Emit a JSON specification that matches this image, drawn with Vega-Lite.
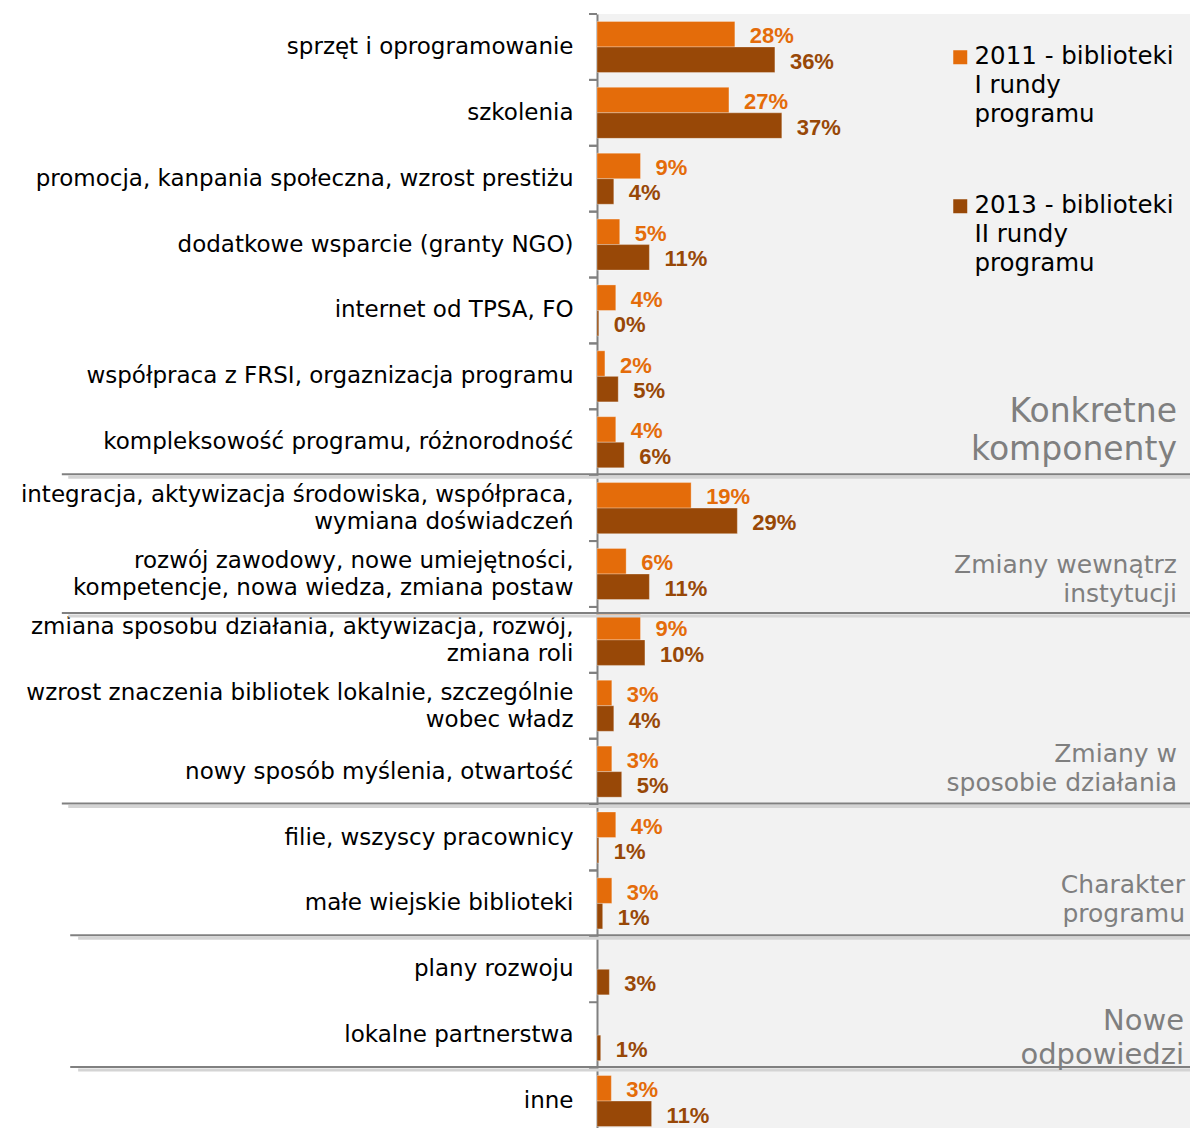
{
  "$schema": "https://vega.github.io/schema/vega-lite/v6.json",
  "width": 593,
  "height": 1114,
  "autosize": "none",
  "padding": {"left": 597, "top": 14, "right": 0, "bottom": 0},
  "background": "white",
  "config": {"view": {"fill": "#F2F2F2", "stroke": null}, "font": "DejaVu Sans", "style": {"guide-label": {"lineHeight": 29}}},
  "datasets": {
    "bars": [
      {"row": "sprzęt i oprogramowanie", "series": "2011", "value": 27.9, "label": "28%"},
      {"row": "sprzęt i oprogramowanie", "series": "2013", "value": 36.0, "label": "36%"},
      {"row": "szkolenia", "series": "2011", "value": 26.7, "label": "27%"},
      {"row": "szkolenia", "series": "2013", "value": 37.4, "label": "37%"},
      {"row": "promocja, kanpania społeczna, wzrost prestiżu", "series": "2011", "value": 8.8, "label": "9%"},
      {"row": "promocja, kanpania społeczna, wzrost prestiżu", "series": "2013", "value": 3.4, "label": "4%"},
      {"row": "dodatkowe wsparcie (granty NGO)", "series": "2011", "value": 4.6, "label": "5%"},
      {"row": "dodatkowe wsparcie (granty NGO)", "series": "2013", "value": 10.6, "label": "11%"},
      {"row": "internet od TPSA, FO", "series": "2011", "value": 3.8, "label": "4%"},
      {"row": "internet od TPSA, FO", "series": "2013", "value": 0.35, "label": "0%"},
      {"row": "współpraca z FRSI, orgaznizacja programu", "series": "2011", "value": 1.6, "label": "2%"},
      {"row": "współpraca z FRSI, orgaznizacja programu", "series": "2013", "value": 4.3, "label": "5%"},
      {"row": "kompleksowość programu, różnorodność", "series": "2011", "value": 3.8, "label": "4%"},
      {"row": "kompleksowość programu, różnorodność", "series": "2013", "value": 5.5, "label": "6%"},
      {"row": "integracja, aktywizacja środowiska, współpraca,\nwymiana doświadczeń", "series": "2011", "value": 19.05, "label": "19%"},
      {"row": "integracja, aktywizacja środowiska, współpraca,\nwymiana doświadczeń", "series": "2013", "value": 28.4, "label": "29%"},
      {"row": "rozwój zawodowy, nowe umiejętności,\nkompetencje, nowa wiedza, zmiana postaw", "series": "2011", "value": 5.9, "label": "6%"},
      {"row": "rozwój zawodowy, nowe umiejętności,\nkompetencje, nowa wiedza, zmiana postaw", "series": "2013", "value": 10.6, "label": "11%"},
      {"row": "zmiana sposobu działania, aktywizacja, rozwój,\nzmiana roli", "series": "2011", "value": 8.8, "label": "9%"},
      {"row": "zmiana sposobu działania, aktywizacja, rozwój,\nzmiana roli", "series": "2013", "value": 9.7, "label": "10%"},
      {"row": "wzrost znaczenia bibliotek lokalnie, szczególnie\nwobec władz", "series": "2011", "value": 3.0, "label": "3%"},
      {"row": "wzrost znaczenia bibliotek lokalnie, szczególnie\nwobec władz", "series": "2013", "value": 3.4, "label": "4%"},
      {"row": "nowy sposób myślenia, otwartość", "series": "2011", "value": 3.0, "label": "3%"},
      {"row": "nowy sposób myślenia, otwartość", "series": "2013", "value": 5.0, "label": "5%"},
      {"row": "filie, wszyscy pracownicy", "series": "2011", "value": 3.8, "label": "4%"},
      {"row": "filie, wszyscy pracownicy", "series": "2013", "value": 0.35, "label": "1%"},
      {"row": "małe wiejskie biblioteki", "series": "2011", "value": 3.0, "label": "3%"},
      {"row": "małe wiejskie biblioteki", "series": "2013", "value": 1.15, "label": "1%"},
      {"row": "plany rozwoju", "series": "2013", "value": 2.5, "label": "3%"},
      {"row": "lokalne partnerstwa", "series": "2013", "value": 0.75, "label": "1%"},
      {"row": "inne", "series": "2011", "value": 2.9, "label": "3%"},
      {"row": "inne", "series": "2013", "value": 11.05, "label": "11%"}
    ],
    "groups": [
      {"name": "Konkretne\nkomponenty", "last": "kompleksowość programu, różnorodność"},
      {"name": "Zmiany wewnątrz\ninstytucji", "last": "rozwój zawodowy, nowe umiejętności,\nkompetencje, nowa wiedza, zmiana postaw"},
      {"name": "Zmiany w\nsposobie działania", "last": "nowy sposób myślenia, otwartość"},
      {"name": "Charakter\nprogramu", "last": "małe wiejskie biblioteki"},
      {"name": "Nowe\nodpowiedzi", "last": "lokalne partnerstwa"}
    ]
  },
  "layer": [
    {
      "data": {"name": "bars"},
      "mark": {"type": "bar", "stroke": "white", "strokeOpacity": 0.3, "strokeWidth": 1},
      "encoding": {
        "y": {
          "field": "row", "type": "nominal", "sort": null,
          "scale": {
            "domain": [
              "sprzęt i oprogramowanie",
              "szkolenia",
              "promocja, kanpania społeczna, wzrost prestiżu",
              "dodatkowe wsparcie (granty NGO)",
              "internet od TPSA, FO",
              "współpraca z FRSI, orgaznizacja programu",
              "kompleksowość programu, różnorodność",
              "integracja, aktywizacja środowiska, współpraca,\nwymiana doświadczeń",
              "rozwój zawodowy, nowe umiejętności,\nkompetencje, nowa wiedza, zmiana postaw",
              "zmiana sposobu działania, aktywizacja, rozwój,\nzmiana roli",
              "wzrost znaczenia bibliotek lokalnie, szczególnie\nwobec władz",
              "nowy sposób myślenia, otwartość",
              "filie, wszyscy pracownicy",
              "małe wiejskie biblioteki",
              "plany rozwoju",
              "lokalne partnerstwa",
              "inne"
            ],
            "range": [0, 1120], "paddingInner": 0, "paddingOuter": 0
          },
          "axis": {
            "title": null, "ticks": false, "domainColor": "#808080", "domainWidth": 2,
            "labelFont": "DejaVu Sans", "labelFontSize": 23, "labelColor": "#000000",
            "labelPadding": 24, "labelLimit": 1000, "labelLineHeight": 27,
            "labelExpr": "split(datum.value, '\\n')", "labelAlign": "right", "labelBaseline": "middle",
            "labelOffset": {"condition": {"test": "test(regexp('\\n'), datum.value)", "value": -13}, "value": 0}
          }
        },
        "yOffset": {"field": "series", "type": "nominal", "sort": ["2011", "2013"], "scale": {"paddingInner": 0, "paddingOuter": 0.29}},
        "x": {"field": "value", "type": "quantitative", "scale": {"domain": [0, 120], "nice": false, "zero": true}, "axis": null},
        "color": {
          "field": "series", "type": "nominal",
          "scale": {"domain": ["2011", "2013"], "range": ["#E46C0A", "#984807"]},
          "legend": {
            "title": null, "orient": "none", "legendX": 351, "legendY": 31, "padding": 0,
            "symbolType": "square", "symbolSize": 196, "symbolStrokeWidth": 0, "symbolOpacity": 1,
            "labelFont": "DejaVu Sans", "labelFontSize": 24.5, "labelColor": "#000000",
            "labelOffset": 2, "labelLimit": 1000, "rowPadding": 66,
            "labelExpr": "datum.label == '2011' ? ['2011 - biblioteki', 'I rundy', 'programu'] : ['2013 - biblioteki', 'II rundy', 'programu']"
          }
        }
      }
    },
    {
      "data": {"name": "bars"},
      "mark": {"type": "text", "align": "left", "baseline": "middle", "dx": 15, "dy": 2, "font": "Liberation Sans", "fontWeight": "bold", "fontSize": 22},
      "encoding": {
        "y": {"field": "row", "type": "nominal", "sort": null},
        "yOffset": {"field": "series", "type": "nominal", "sort": ["2011", "2013"]},
        "x": {"field": "value", "type": "quantitative"},
        "text": {"field": "label", "type": "nominal"},
        "color": {"field": "series", "type": "nominal"}
      }
    },
    {
      "data": {"name": "bars"},
      "mark": {"type": "rule", "color": "#808080", "strokeWidth": 2},
      "encoding": {
        "y": {"field": "row", "type": "nominal", "sort": null, "bandPosition": 0},
        "x": {"datum": -1.6},
        "x2": {"datum": 0}
      }
    },
    {
      "data": {"name": "groups"},
      "transform": [{"filter": {"field": "name", "oneOf": ["Konkretne\nkomponenty", "Zmiany w\nsposobie działania"]}}],
      "mark": {"type": "rule", "color": "#d4d4d4", "strokeWidth": 3, "yOffset": 2},
      "encoding": {
        "y": {"field": "last", "type": "nominal", "sort": null, "bandPosition": 1},
        "x": {"datum": -107},
        "x2": {"datum": 120}
      }
    },
    {
      "data": {"name": "groups"},
      "transform": [{"filter": {"field": "name", "oneOf": ["Konkretne\nkomponenty", "Zmiany w\nsposobie działania"]}}],
      "mark": {"type": "rule", "color": "#808080", "strokeWidth": 2, "yOffset": -1},
      "encoding": {
        "y": {"field": "last", "type": "nominal", "sort": null, "bandPosition": 1},
        "x": {"datum": -108.3},
        "x2": {"datum": 120}
      }
    },
    {
      "data": {"name": "groups"},
      "transform": [{"filter": {"field": "name", "equal": "Zmiany wewnątrz\ninstytucji"}}],
      "mark": {"type": "rule", "color": "#d4d4d4", "strokeWidth": 3, "yOffset": 9},
      "encoding": {
        "y": {"field": "last", "type": "nominal", "sort": null, "bandPosition": 1},
        "x": {"datum": -107},
        "x2": {"datum": 120}
      }
    },
    {
      "data": {"name": "groups"},
      "transform": [{"filter": {"field": "name", "equal": "Zmiany wewnątrz\ninstytucji"}}],
      "mark": {"type": "rule", "color": "#808080", "strokeWidth": 2, "yOffset": 6},
      "encoding": {
        "y": {"field": "last", "type": "nominal", "sort": null, "bandPosition": 1},
        "x": {"datum": -108.3},
        "x2": {"datum": 120}
      }
    },
    {
      "data": {"name": "groups"},
      "transform": [{"filter": {"field": "name", "oneOf": ["Charakter\nprogramu", "Nowe\nodpowiedzi"]}}],
      "mark": {"type": "rule", "color": "#d4d4d4", "strokeWidth": 3, "yOffset": 2},
      "encoding": {
        "y": {"field": "last", "type": "nominal", "sort": null, "bandPosition": 1},
        "x": {"datum": -105},
        "x2": {"datum": 120}
      }
    },
    {
      "data": {"name": "groups"},
      "transform": [{"filter": {"field": "name", "oneOf": ["Charakter\nprogramu", "Nowe\nodpowiedzi"]}}],
      "mark": {"type": "rule", "color": "#808080", "strokeWidth": 2, "yOffset": -1},
      "encoding": {
        "y": {"field": "last", "type": "nominal", "sort": null, "bandPosition": 1},
        "x": {"datum": -106.6},
        "x2": {"datum": 120}
      }
    },
    {
      "data": {"name": "groups"},
      "transform": [{"filter": {"field": "name", "equal": "Konkretne\nkomponenty"}}],
      "mark": {"type": "text", "align": "right", "baseline": "bottom", "lineBreak": "\n", "font": "DejaVu Sans", "fontSize": 33, "lineHeight": 38, "color": "#7F7F7F", "dx": -13, "dy": -46},
      "encoding": {
        "y": {"field": "last", "type": "nominal", "sort": null, "bandPosition": 1},
        "x": {"datum": 120},
        "text": {"field": "name", "type": "nominal"}
      }
    },
    {
      "data": {"name": "groups"},
      "transform": [{"filter": {"field": "name", "equal": "Zmiany wewnątrz\ninstytucji"}}],
      "mark": {"type": "text", "align": "right", "baseline": "bottom", "lineBreak": "\n", "font": "DejaVu Sans", "fontSize": 25, "lineHeight": 29, "color": "#7F7F7F", "dx": -13, "dy": -29},
      "encoding": {
        "y": {"field": "last", "type": "nominal", "sort": null, "bandPosition": 1},
        "x": {"datum": 120},
        "text": {"field": "name", "type": "nominal"}
      }
    },
    {
      "data": {"name": "groups"},
      "transform": [{"filter": {"field": "name", "equal": "Zmiany w\nsposobie działania"}}],
      "mark": {"type": "text", "align": "right", "baseline": "bottom", "lineBreak": "\n", "font": "DejaVu Sans", "fontSize": 25, "lineHeight": 29, "color": "#7F7F7F", "dx": -13, "dy": -38},
      "encoding": {
        "y": {"field": "last", "type": "nominal", "sort": null, "bandPosition": 1},
        "x": {"datum": 120},
        "text": {"field": "name", "type": "nominal"}
      }
    },
    {
      "data": {"name": "groups"},
      "transform": [{"filter": {"field": "name", "equal": "Charakter\nprogramu"}}],
      "mark": {"type": "text", "align": "right", "baseline": "bottom", "lineBreak": "\n", "font": "DejaVu Sans", "fontSize": 25, "lineHeight": 29, "color": "#7F7F7F", "dx": -5, "dy": -38},
      "encoding": {
        "y": {"field": "last", "type": "nominal", "sort": null, "bandPosition": 1},
        "x": {"datum": 120},
        "text": {"field": "name", "type": "nominal"}
      }
    },
    {
      "data": {"name": "groups"},
      "transform": [{"filter": {"field": "name", "equal": "Nowe\nodpowiedzi"}}],
      "mark": {"type": "text", "align": "right", "baseline": "bottom", "lineBreak": "\n", "font": "DejaVu Sans", "fontSize": 29, "lineHeight": 34, "color": "#7F7F7F", "dx": -6, "dy": -32},
      "encoding": {
        "y": {"field": "last", "type": "nominal", "sort": null, "bandPosition": 1},
        "x": {"datum": 120},
        "text": {"field": "name", "type": "nominal"}
      }
    }
  ]
}
